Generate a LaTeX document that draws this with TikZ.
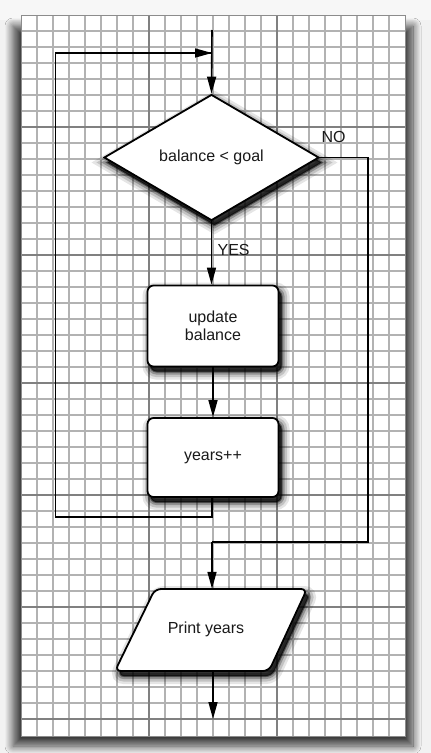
\documentclass[tikz,border=0pt]{standalone}
\usepackage{fontspec}
\setmainfont{Liberation Sans}
\usetikzlibrary{shapes.geometric,arrows.meta,shadows.blur}
\tikzset{
  minorline/.style={draw=black!30, line width=1.1pt},
  majorline/.style={draw=black!50, line width=1.1pt},
  softshadow/.style={
    preaction={draw=black, draw opacity=0.10, line width=16pt, transform canvas={shift={(3pt,-5pt)}}},
    preaction={draw=black, draw opacity=0.15, line width=11pt, transform canvas={shift={(3pt,-5pt)}}},
    preaction={draw=black, draw opacity=0.25, line width=6pt, transform canvas={shift={(3pt,-5pt)}}},
    preaction={draw=black, draw opacity=0.45, line width=2pt, fill=black, fill opacity=0.75, transform canvas={shift={(3pt,-5pt)}}}},
  shapebox/.style={softshadow, draw=black, line width=1.8pt, fill=white},
  lbl/.style={font=\fontsize{16}{18.5}\selectfont, text=black!90, align=center},
  conn/.style={draw=black, line width=1.6pt},
  arr/.style={conn, -{Triangle[length=17pt,width=9pt]}}
}
\begin{document}
\begin{tikzpicture}[x=1pt,y=-1pt]
\useasboundingbox (0,0) rectangle (431,753);
\fill[black!5] (0,0) rectangle (431,753);
\fill[white!97!black] (0,0) rectangle (431,20);
% paper shadow
\path[blur shadow={shadow xshift=0pt, shadow yshift=0pt, shadow blur radius=8pt, shadow opacity=75, shadow blur steps=12}] (13,26) rectangle (413,746);
% paper
\fill[white] (21,15) rectangle (405,736);
\foreach \i in {1,...,23} \draw[minorline] (21+16*\i,15) -- (21+16*\i,736);
\foreach \j in {1,...,44} \draw[minorline] (21,15+16*\j) -- (405,15+16*\j);
\foreach \i in {8,16} \draw[majorline] (21+16*\i,15) -- (21+16*\i,736);
\foreach \j in {7,15,23,30,37,44} \draw[majorline] (21,15+16*\j) -- (405,15+16*\j);
\draw[draw=black!45, line width=1pt] (21,15) rectangle (405,736);

% nodes
\node[shapebox, diamond, minimum width=215pt, minimum height=126pt, inner sep=0pt, lbl] (cond) at (211.5,157.5) {balance < goal};
\node[shapebox, rectangle, rounded corners=6pt, minimum width=131pt, minimum height=81pt, lbl] (upd) at (213,326) {update\\balance};
\node[shapebox, rectangle, rounded corners=6pt, minimum width=131pt, minimum height=79pt, lbl] (yrs) at (213,457.5) {years++};
\path[shapebox, rounded corners=6pt] (155,589) -- (307,589) -- (269,671) -- (115,671) -- cycle;
\node[lbl, minimum width=150pt, minimum height=82pt, inner sep=0pt] (prt) at (209,630) {};
\node[lbl] (prtxt) at (206,629.5) {Print years};

\coordinate (start) at (212,30);
\coordinate (join) at (212,53);
\coordinate (stop) at (213,719);
\coordinate (noA) at (368,157.5);
\coordinate (noB) at (368,542);
\coordinate (noC) at (212,542);
\coordinate (lpA) at (212,517);
\coordinate (lpB) at (55.5,517);
\coordinate (lpC) at (55.5,53);

% connectors
\draw[arr] (start) -- (cond.north);
\draw[arr] (cond.south) -- (cond.south |- upd.north) node[lbl, pos=0.45, anchor=west, xshift=2pt] (yes) {YES};
\draw[arr] (upd.south) -- (yrs.north);
\draw[conn] (yrs.south -| lpA) -- (lpA) -- (lpB) -- (lpC) -- (join);
\draw[arr] (lpB |- join) -- (join);
\draw[conn] (cond.east) -- (noA) -- (noB) -- (noC);
\draw[arr] (noC) -- (noC |- prt.north);
\node[lbl, anchor=south west] (no) at (318,146) {NO};
\draw[arr] (prt.south -| stop) -- (stop);
\end{tikzpicture}
\end{document}
